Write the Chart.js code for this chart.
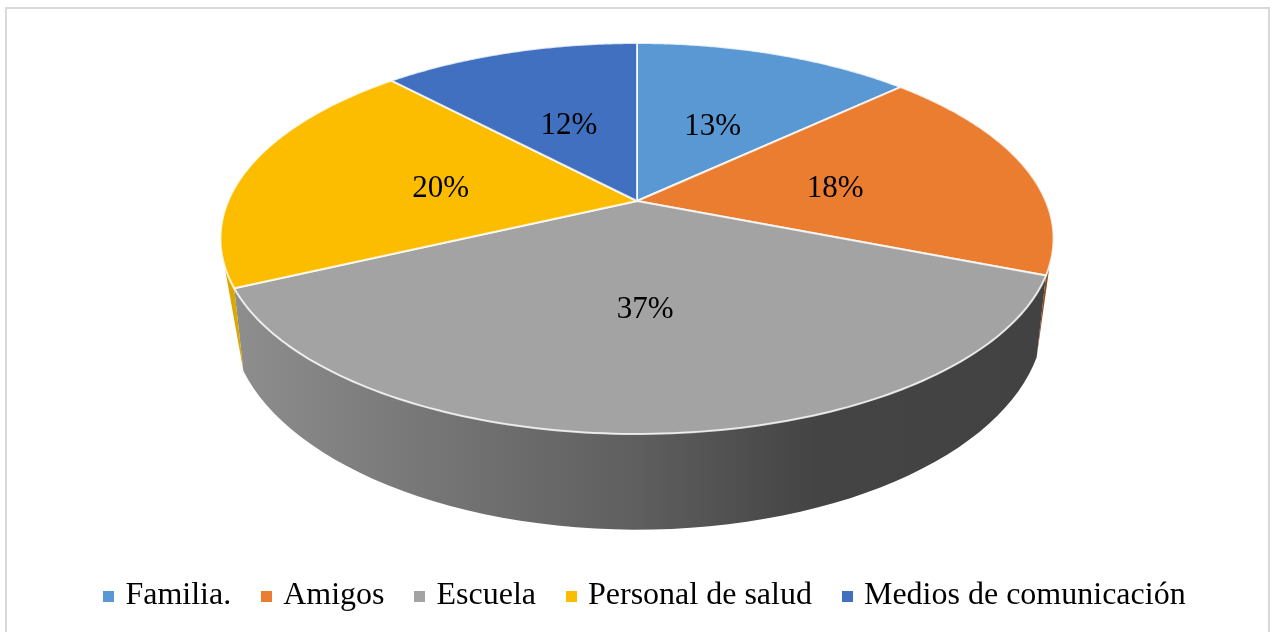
<!DOCTYPE html>
<html lang="es">
<head>
<meta charset="utf-8">
<title>Pie</title>
<script src="https://cdn.jsdelivr.net/npm/chart.js@4/dist/chart.umd.js"></script>
<style>
    html, body { margin: 0; background: #fff; overflow: hidden; }
    #wrap { position: relative; width: 1274px; height: 632px; }
    #frame { position: absolute; left: 5px; top: 7px; width: 1261px; height: 640px; border: 2px solid #d9d9d9; box-sizing: content-box; }
    canvas { position: absolute; left: 0; top: 0; }
</style>
</head>
<body>
<div id="wrap">
    <div id="frame"></div>
    <canvas id="chart" width="1274" height="632"></canvas>
</div>
<script>
const categories = ['Familia.', 'Amigos', 'Escuela', 'Personal de salud', 'Medios de comunicación'];
const shares = [13, 18, 37, 20, 12];
const colors = ['#5A98D3', '#EB7D31', '#A3A3A3', '#FCBD00', '#4070BF'];
const wallColors = ['#3a5f82', '#8a4f22', null, '#dca700', '#2a4577'];

const font = 'Liberation Serif';

// perspective of the tilted disc
const top3d = { cx: 637, cy: 201, a: 408.8, b: 188.3, k: 0.1918 };
const bottom3d = { cx: 637, cy: 276, a: 399.5, b: 205, k: 0.1918 };

const rad = (deg) => deg * Math.PI / 180;
// side wall shows between these angles, the lower rim stops a bit earlier
const wallFrom = rad(18.6);
const wallTo = rad(161.4);
const rimFrom = rad(21.6);
const rimTo = rad(154.8);

const project = (disc, angle, r = 1) => {
    const u = Math.cos(angle) * r;
    const v = Math.sin(angle) * r;
    const w = 1 - disc.k * v;
    return [disc.cx + disc.a * u / w, disc.cy + disc.b * v / w];
};

const clamp = (value, min, max) => Math.min(max, Math.max(min, value));

class Arc3D extends Chart.ArcElement {
    static id = 'arc3d';

    drawWall(ctx) {
        const { startAngle, endAngle } = this.getProps(['startAngle', 'endAngle']);
        const from = Math.max(startAngle, wallFrom);
        const to = Math.min(endAngle, wallTo);
        if (to <= from) {
            return;
        }

        const steps = 60;
        ctx.beginPath();
        for (let i = 0; i <= steps; i++) {
            const [x, y] = project(top3d, from + (to - from) * i / steps);
            i === 0 ? ctx.moveTo(x, y) : ctx.lineTo(x, y);
        }
        for (let i = steps; i >= 0; i--) {
            const angle = clamp(from + (to - from) * i / steps, rimFrom, rimTo);
            const [x, y] = project(bottom3d, angle);
            ctx.lineTo(x, y);
        }
        ctx.closePath();

        const wall = wallColors[this.$context.index];
        if (wall) {
            ctx.fillStyle = wall;
        } else {
            const gradient = ctx.createLinearGradient(244, 0, 1037, 0);
            gradient.addColorStop(0, '#8d8d8d');
            gradient.addColorStop(0.15, '#7e7e7e');
            gradient.addColorStop(0.3, '#707070');
            gradient.addColorStop(0.5, '#5e5e5e');
            gradient.addColorStop(0.72, '#444444');
            gradient.addColorStop(1, '#424242');
            ctx.fillStyle = gradient;
        }
        ctx.fill();
    }

    draw(ctx) {
        const { startAngle, endAngle } = this.getProps(['startAngle', 'endAngle']);
        const steps = 120;

        ctx.beginPath();
        ctx.moveTo(top3d.cx, top3d.cy);
        for (let i = 0; i <= steps; i++) {
            const [x, y] = project(top3d, startAngle + (endAngle - startAngle) * i / steps);
            ctx.lineTo(x, y);
        }
        ctx.closePath();
        ctx.fillStyle = this.options.backgroundColor;
        ctx.fill();
        ctx.lineJoin = 'round';
        ctx.lineWidth = 2;
        ctx.strokeStyle = 'rgba(255, 255, 255, 0.8)';
        ctx.stroke();
    }
}

class Pie3DController extends Chart.PieController {
    static id = 'pie3d';
    static defaults = { dataElementType: 'arc3d' };

    draw() {
        const ctx = this.chart.ctx;
        const arcs = this.getMeta().data;
        arcs.forEach((arc) => arc.drawWall(ctx));
        arcs.forEach((arc) => arc.draw(ctx));
    }
}

Chart.register(Arc3D, Pie3DController);

const swatch = (color) => {
    const c = document.createElement('canvas');
    c.width = 11;
    c.height = 11;
    const g = c.getContext('2d');
    g.fillStyle = color;
    g.fillRect(0, 0, 11, 11);
    return c;
};

const percentLabels = {
    id: 'percentLabels',
    afterDatasetsDraw(chart) {
        const { ctx } = chart;
        ctx.save();
        ctx.font = `31px "${font}"`;
        ctx.fillStyle = '#000';
        ctx.textAlign = 'center';
        ctx.textBaseline = 'middle';
        chart.getDatasetMeta(0).data.forEach((arc, i) => {
            const { startAngle, endAngle } = arc.getProps(['startAngle', 'endAngle']);
            const [x, y] = project(top3d, (startAngle + endAngle) / 2, 0.5);
            ctx.fillText(`${shares[i]}%`, x + 1, y + 5);
        });
        ctx.restore();
    },
};

new Chart(document.getElementById('chart'), {
    type: 'pie3d',
    data: {
        labels: categories,
        datasets: [{
            data: shares,
            backgroundColor: colors,
        }],
    },
    plugins: [percentLabels],
    options: {
        responsive: false,
        animation: false,
        layout: {
            padding: { left: 20, bottom: 10 },
        },
        plugins: {
            tooltip: { enabled: false },
            legend: {
                position: 'bottom',
                labels: {
                    usePointStyle: true,
                    pointStyleWidth: 1,
                    boxHeight: 11,
                    padding: 35,
                    color: '#000',
                    font: { family: font, size: 32 },
                    generateLabels: (chart) => Chart.PieController.overrides.plugins.legend.labels
                        .generateLabels(chart)
                        .map((item, i) => ({ ...item, pointStyle: swatch(colors[i]) })),
                },
            },
        },
    },
});
</script>
</body>
</html>
